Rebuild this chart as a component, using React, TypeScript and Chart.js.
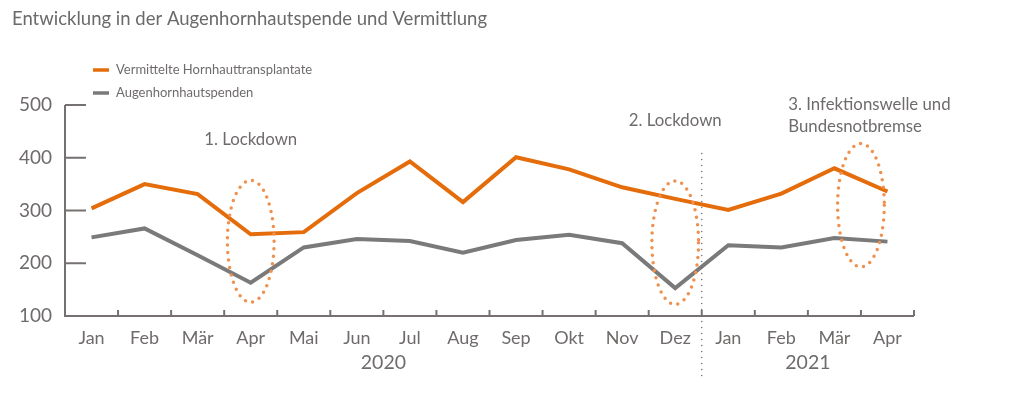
import React, { useEffect, useRef } from "react";
import { Chart, registerables } from "chart.js";

Chart.register(...registerables);

const months = ["Jan", "Feb", "Mär", "Apr", "Mai", "Jun", "Jul", "Aug", "Sep", "Okt", "Nov", "Dez", "Jan", "Feb", "Mär", "Apr"];
const transplants = [304, 350, 331, 255, 259, 333, 393, 316, 401, 378, 344, 322, 301, 332, 380, 336];
const donations = [249, 266, 215, 163, 230, 246, 242, 220, 244, 254, 238, 153, 234, 230, 248, 241];
const yTicks = [100, 200, 300, 400, 500];
const seriesNames = ["Vermittelte Hornhauttransplantate", "Augenhornhautspenden"];
const years = [
  { label: "2020", at: 5.5 },
  { label: "2021", at: 13.5 },
];
// ellipses in data units: center category index, half width (categories), value range
const ellipses = [
  { center: 3, half: 0.44, from: 126, to: 357 },
  { center: 11, half: 0.44, from: 122, to: 356 },
  { center: 14.5, half: 0.44, from: 193, to: 427 },
];
const notes = [
  { text: "1. Lockdown", at: 3, value: 435, align: "center" },
  { text: "2. Lockdown", at: 11, value: 471, align: "center" },
  { text: "3. Infektionswelle und", at: 13.13, value: 501, align: "left" },
  { text: "Bundesnotbremse", at: 13.13, value: 459, align: "left" },
];
const divider = { at: 11.5, from: 408 };
const title = "Entwicklung in der Augenhornhautspende und Vermittlung";

const ORANGE = "#E46C0A";
const GRAY = "#7A7A7A";
const TEXT = "#6F6B6B";
const FONT = "Lato, 'Open Sans', sans-serif";

export default function App() {
  const ref = useRef<HTMLCanvasElement | null>(null);

  useEffect(() => {
    document.body.style.margin = "0";
    const canvas = ref.current;
    if (!canvas) return;

    const decor = {
      id: "decor",
      afterDatasetsDraw(chart: any) {
        const ctx = chart.ctx;
        const xs = chart.scales.x;
        const ys = chart.scales.y;
        const area = chart.chartArea;
        ctx.save();
        // axes
        ctx.strokeStyle = "#767171";
        ctx.lineWidth = 2;
        ctx.beginPath();
        ctx.moveTo(area.left, area.top);
        ctx.lineTo(area.left, area.bottom);
        ctx.lineTo(area.right, area.bottom);
        ctx.stroke();
        // y ticks (inside)
        yTicks.forEach((v) => {
          const y = ys.getPixelForValue(v);
          ctx.beginPath();
          ctx.moveTo(area.left, y);
          ctx.lineTo(area.left + 21, y);
          ctx.stroke();
        });
        // x ticks at category boundaries
        for (let i = 0; i <= months.length; i++) {
          const x = xs.getPixelForValue(i - 0.5);
          ctx.beginPath();
          ctx.moveTo(x, area.bottom);
          ctx.lineTo(x, area.bottom - 6);
          ctx.stroke();
        }
        // ellipses
        ctx.strokeStyle = "#EF9050";
        ctx.lineWidth = 3.5;
        ctx.lineCap = "round";
        ctx.setLineDash([0, 7.5]);
        ellipses.forEach((e) => {
          const cx = xs.getPixelForValue(e.center);
          const rx = Math.abs(xs.getPixelForValue(e.center + e.half) - cx);
          const y1 = ys.getPixelForValue(e.to);
          const y2 = ys.getPixelForValue(e.from);
          ctx.beginPath();
          ctx.ellipse(cx, (y1 + y2) / 2, rx, (y2 - y1) / 2, 0, 0, Math.PI * 2);
          ctx.stroke();
        });
        // divider
        ctx.strokeStyle = "#6E6E6E";
        ctx.lineWidth = 1.5;
        ctx.setLineDash([0, 6]);
        const dx = xs.getPixelForValue(divider.at);
        ctx.beginPath();
        ctx.moveTo(dx, ys.getPixelForValue(divider.from));
        ctx.lineTo(dx, area.bottom + 62);
        ctx.stroke();
        ctx.setLineDash([]);
        // notes
        ctx.fillStyle = TEXT;
        ctx.font = `16.8px ${FONT}`;
        ctx.textBaseline = "middle";
        notes.forEach((n) => {
          ctx.textAlign = n.align as CanvasTextAlign;
          ctx.fillText(n.text, xs.getPixelForValue(n.at), ys.getPixelForValue(n.value));
        });
        // years
        ctx.font = `19.5px ${FONT}`;
        ctx.textAlign = "center";
        years.forEach((yr) => {
          ctx.fillText(yr.label, xs.getPixelForValue(yr.at), area.bottom + 47);
        });
        // title
        ctx.fillStyle = "#6A6A6A";
        ctx.font = `18.5px ${FONT}`;
        ctx.textAlign = "left";
        ctx.fillText(title, 12, 19);
        // legend
        const colors = [ORANGE, GRAY];
        ctx.font = `13px ${FONT}`;
        seriesNames.forEach((name, i) => {
          const y = 70 + i * 23;
          ctx.strokeStyle = colors[i];
          ctx.lineWidth = 3.5;
          ctx.lineCap = "butt";
          ctx.beginPath();
          ctx.moveTo(93, y);
          ctx.lineTo(109, y);
          ctx.stroke();
          ctx.fillStyle = TEXT;
          ctx.fillText(name, 116, y);
        });
        ctx.restore();
      },
    };

    const chart = new Chart(canvas, {
      type: "line",
      data: {
        labels: months,
        datasets: [
          { label: seriesNames[0], data: transplants, borderColor: ORANGE, backgroundColor: ORANGE, borderWidth: 4, pointRadius: 0, tension: 0 },
          { label: seriesNames[1], data: donations, borderColor: GRAY, backgroundColor: GRAY, borderWidth: 4, pointRadius: 0, tension: 0 },
        ],
      },
      options: {
        responsive: false,
        animation: false,
        layout: { padding: { left: 0, right: 99, top: 105, bottom: 0 } },
        plugins: { legend: { display: false }, title: { display: false }, tooltip: { enabled: false } },
        scales: {
          x: {
            type: "category",
            offset: true,
            grid: { display: false, drawTicks: false, offset: true },
            border: { display: false },
            ticks: { color: TEXT, font: { family: FONT, size: 18 }, padding: 11, maxRotation: 0, autoSkip: false },
            afterFit: (s: any) => { s.height = 80; },
          },
          y: {
            min: 100,
            max: 500,
            grid: { display: false, drawTicks: false },
            border: { display: false },
            ticks: { stepSize: 100, color: TEXT, font: { family: FONT, size: 19 }, padding: 13 },
            afterFit: (s: any) => { s.width = 65; },
          },
        },
      },
      plugins: [decor],
    });
    return () => chart.destroy();
  }, []);

  return (
    <div style={{ position: "relative", width: 1013, height: 396 }}>
      <canvas ref={ref} width={1013} height={396} />
    </div>
  );
}
